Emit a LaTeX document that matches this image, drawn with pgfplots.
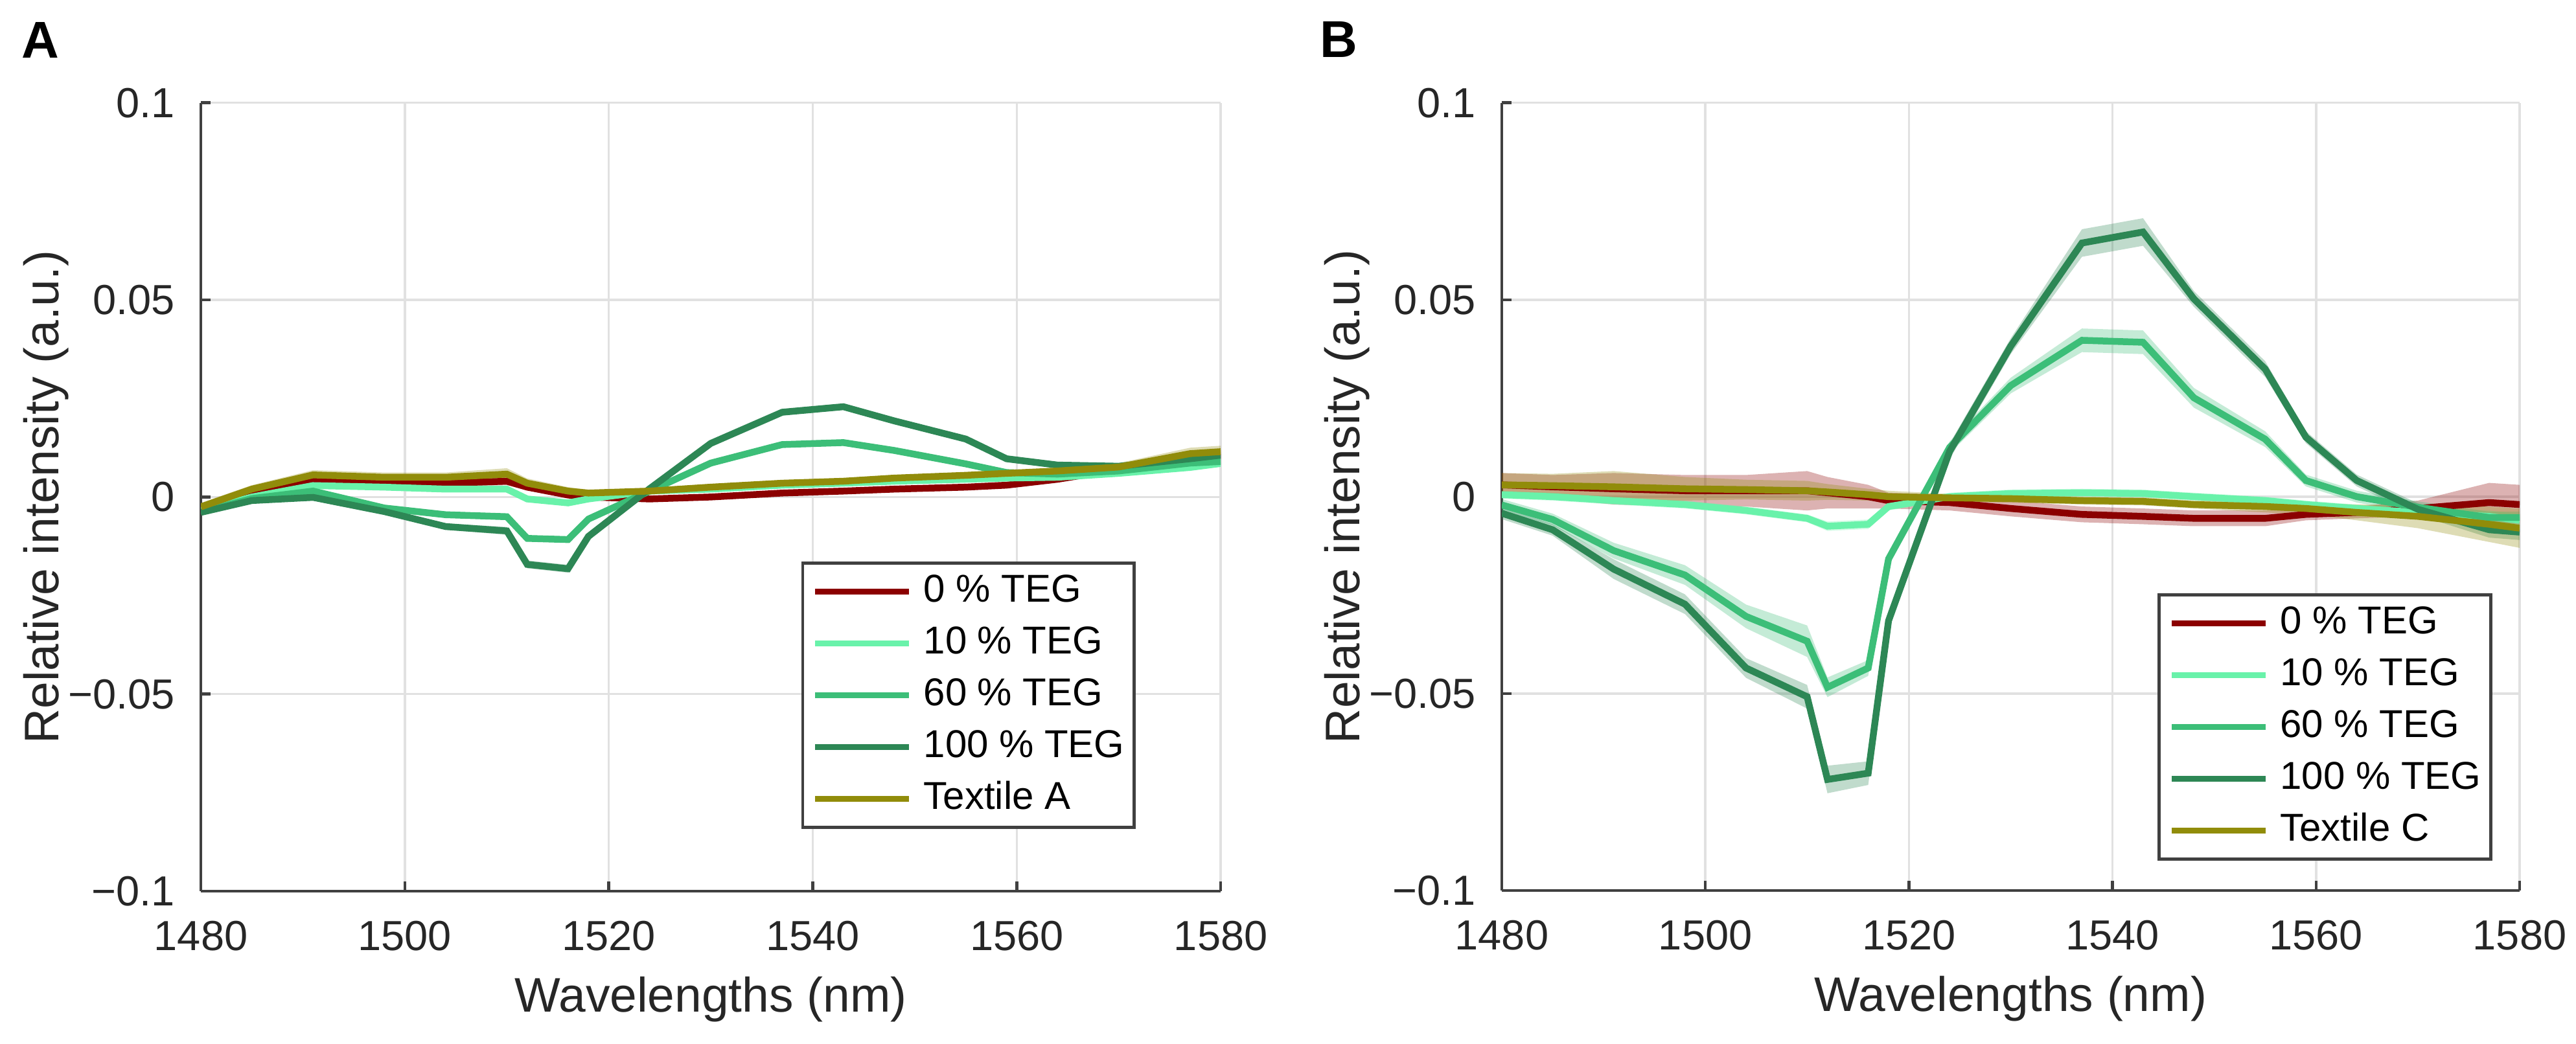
\documentclass[border=0pt]{standalone}
\usepackage{pgfplots}
\pgfplotsset{compat=1.18}
\usepackage{pgfplotstable}
\usepgfplotslibrary{fillbetween}
\usepackage{fontspec}
\setmainfont{Liberation Sans}

\definecolor{cz}{RGB}{139,0,0}
\definecolor{cten}{RGB}{105,242,170}
\definecolor{csix}{RGB}{60,190,120}
\definecolor{chun}{RGB}{45,135,85}
\definecolor{ctex}{RGB}{145,140,10}
\definecolor{txt}{RGB}{38,38,38}
\definecolor{axc}{RGB}{64,64,64}
\definecolor{grd}{RGB}{225,225,225}

\pgfplotstableread{
x      a0      e0     a10     e10    a60     e60    a100    e100   at      et
1480 -0.0030 0.0008 -0.0035 0.0006 -0.0038 0.0006 -0.0039 0.0006 -0.0025 0.0010
1485  0.0010 0.0008  0.0000 0.0006 -0.0004 0.0006 -0.0009 0.0006  0.0020 0.0010
1491  0.0045 0.0008  0.0029 0.0006  0.0015 0.0006 -0.0001 0.0008  0.0056 0.0012
1498  0.0040 0.0008  0.0025 0.0006 -0.0028 0.0008 -0.0037 0.0008  0.0050 0.0012
1504  0.0035 0.0008  0.0020 0.0006 -0.0045 0.0008 -0.0075 0.0008  0.0050 0.0012
1510  0.0040 0.0010  0.0020 0.0006 -0.0050 0.0008 -0.0086 0.0010  0.0058 0.0015
1512  0.0025 0.0008 -0.0005 0.0006 -0.0105 0.0008 -0.0171 0.0010  0.0035 0.0012
1516  0.0005 0.0008 -0.0015 0.0006 -0.0108 0.0008 -0.0182 0.0010  0.0015 0.0010
1518  0.0000 0.0006 -0.0005 0.0006 -0.0056 0.0008 -0.0100 0.0008  0.0010 0.0008
1524 -0.0005 0.0006  0.0015 0.0006  0.0015 0.0006  0.0021 0.0008  0.0015 0.0008
1530  0.0000 0.0006  0.0020 0.0006  0.0086 0.0006  0.0136 0.0008  0.0025 0.0008
1537  0.0010 0.0006  0.0030 0.0006  0.0133 0.0008  0.0215 0.0008  0.0035 0.0008
1543  0.0015 0.0006  0.0035 0.0006  0.0138 0.0008  0.0229 0.0008  0.0040 0.0008
1548  0.0020 0.0006  0.0040 0.0006  0.0118 0.0008  0.0193 0.0008  0.0048 0.0008
1555  0.0025 0.0006  0.0045 0.0006  0.0084 0.0008  0.0147 0.0008  0.0055 0.0008
1559  0.0030 0.0006  0.0048 0.0006  0.0062 0.0006  0.0097 0.0008  0.0060 0.0008
1564  0.0045 0.0006  0.0050 0.0006  0.0058 0.0006  0.0081 0.0008  0.0066 0.0008
1570  0.0070 0.0008  0.0060 0.0006  0.0066 0.0006  0.0078 0.0008  0.0076 0.0010
1577  0.0100 0.0010  0.0075 0.0006  0.0086 0.0008  0.0097 0.0008  0.0110 0.0015
1580  0.0105 0.0010  0.0085 0.0006  0.0090 0.0008  0.0106 0.0008  0.0115 0.0015
}\tabA

\pgfplotstableread{
x      a0      e0     a10     e10    a60     e60    a100    e100   at      et
1480  0.0030 0.0030  0.0005 0.0010 -0.0021 0.0015 -0.0042 0.0015  0.0030 0.0030
1485  0.0025 0.0030  0.0000 0.0010 -0.0058 0.0015 -0.0084 0.0015  0.0028 0.0030
1491  0.0020 0.0040 -0.0010 0.0010 -0.0137 0.0020 -0.0184 0.0025  0.0025 0.0040
1498  0.0015 0.0040 -0.0020 0.0010 -0.0199 0.0025 -0.0273 0.0025  0.0020 0.0030
1504  0.0015 0.0040 -0.0035 0.0010 -0.0304 0.0030 -0.0435 0.0025  0.0018 0.0025
1510  0.0015 0.0050 -0.0055 0.0010 -0.0367 0.0040 -0.0508 0.0030  0.0015 0.0025
1512  0.0010 0.0040 -0.0075 0.0012 -0.0484 0.0025 -0.0718 0.0035  0.0012 0.0020
1516  0.0000 0.0030 -0.0070 0.0012 -0.0435 0.0020 -0.0702 0.0030  0.0005 0.0015
1518 -0.0010 0.0020 -0.0025 0.0010 -0.0158 0.0015 -0.0315 0.0020  0.0000 0.0015
1524 -0.0015 0.0020  0.0000 0.0010  0.0125 0.0015  0.0115 0.0020 -0.0003 0.0010
1530 -0.0030 0.0020  0.0008 0.0010  0.0282 0.0020  0.0382 0.0020 -0.0005 0.0010
1537 -0.0045 0.0020  0.0010 0.0010  0.0397 0.0030  0.0644 0.0035 -0.0010 0.0010
1543 -0.0050 0.0020  0.0008 0.0010  0.0392 0.0030  0.0672 0.0035 -0.0012 0.0010
1548 -0.0055 0.0020  0.0000 0.0010  0.0251 0.0025  0.0502 0.0020 -0.0020 0.0010
1555 -0.0055 0.0020 -0.0010 0.0010  0.0146 0.0020  0.0324 0.0020 -0.0025 0.0015
1559 -0.0045 0.0015 -0.0020 0.0010  0.0041 0.0015  0.0151 0.0015 -0.0030 0.0015
1564 -0.0040 0.0015 -0.0030 0.0010  0.0000 0.0015  0.0041 0.0015 -0.0040 0.0020
1570 -0.0030 0.0020 -0.0040 0.0010 -0.0027 0.0015 -0.0032 0.0015 -0.0050 0.0030
1577 -0.0015 0.0050 -0.0050 0.0015 -0.0053 0.0015 -0.0084 0.0020 -0.0070 0.0045
1580 -0.0020 0.0050 -0.0060 0.0015 -0.0053 0.0015 -0.0090 0.0020 -0.0080 0.0050
}\tabB

% band: #1 table, #2 value col, #3 err col, #4 colour, #5 unique name
\newcommand{\band}[5]{%
  \addplot[draw=none, forget plot, name path=#5u] table[x=x, y expr=\thisrow{#2}+\thisrow{#3}] {#1};
  \addplot[draw=none, forget plot, name path=#5l] table[x=x, y expr=\thisrow{#2}-\thisrow{#3}] {#1};
  \addplot[fill=#4, fill opacity=0.3, draw=none, forget plot] fill between[of=#5u and #5l];
}

\pgfplotsset{
  panel/.style={
    scale only axis,
    xmin=1480, xmax=1580, ymin=-0.1, ymax=0.1,
    xtick={1480,1500,1520,1540,1560,1580},
    xticklabels={1480,1500,1520,1540,1560,1580},
    ytick={-0.1,-0.05,0,0.05,0.1},
    yticklabels={−0.1,−0.05,0,0.05,0.1},
    axis x line*=bottom, axis y line*=left,
    axis line style={axc, line width=0.45pt},
    tick align=inside, major tick length=1.5pt,
    tick style={axc, line width=0.45pt},
    grid=major, major grid style={grd, line width=0.35pt},
    /pgf/number format/assume math mode=true,
    ticklabel style={font=\fontsize{6.5}{7}\selectfont, text=txt},
    yticklabel style={inner sep=0pt, anchor=east, xshift=-3.8pt},
    xticklabel style={inner sep=0pt, anchor=north, yshift=-4.4pt},
    label style={font=\fontsize{7.5}{8}\selectfont, text=txt},
    xlabel={Wavelengths (nm)},
    ylabel={Relative intensity (a.u.)},
    xlabel style={at={(axis description cs:0.5,0)}, anchor=base, yshift=-18.7pt, inner sep=0pt},
    ylabel style={at={(axis description cs:-0.1397,0.5)}, anchor=base, inner sep=0pt},
    legend style={font=\fontsize{6}{7}\selectfont, text=black, draw=axc, line width=0.45pt,
      anchor=north west, inner xsep=1.5pt, inner ysep=1.6pt, row sep=2.4pt, column sep=1.8pt,
      nodes={inner sep=0pt, text height=4.4pt, text depth=1.2pt}},
    legend cell align=left,
    legend image code/.code={\draw[#1, line width=0.9pt] (0pt,0pt) -- (14.5pt,0pt);},
  }
}

\begin{document}
\begin{tikzpicture}
\path (0,0) rectangle (397.6pt,160.4pt);

\begin{axis}[panel, at={(30.8pt,23.6pt)}, anchor=south west, width=157.5pt, height=121.8pt,
  legend style={at={(axis description cs:0.5886,0.4179)}}]
  \band{\tabA}{a0}{e0}{cz}{Az}
  \addplot[cz, line width=1.05pt] table[x=x, y=a0] {\tabA};
  \addlegendentry{0 \% TEG}
  \band{\tabA}{a10}{e10}{cten}{At}
  \addplot[cten, line width=1.05pt] table[x=x, y=a10] {\tabA};
  \addlegendentry{10 \% TEG}
  \band{\tabA}{a60}{e60}{csix}{As}
  \addplot[csix, line width=1.05pt] table[x=x, y=a60] {\tabA};
  \addlegendentry{60 \% TEG}
  \band{\tabA}{a100}{e100}{chun}{Ah}
  \addplot[chun, line width=1.05pt] table[x=x, y=a100] {\tabA};
  \addlegendentry{100 \% TEG}
  \band{\tabA}{at}{et}{ctex}{Ax}
  \addplot[ctex, line width=1.05pt] table[x=x, y=at] {\tabA};
  \addlegendentry{Textile A}
\end{axis}

\begin{axis}[panel, at={(231.7pt,23.7pt)}, anchor=south west, width=157.2pt, height=121.7pt,
  legend style={at={(axis description cs:0.6444,0.3772)}}]
  \band{\tabB}{a0}{e0}{cz}{Bz}
  \addplot[cz, line width=1.05pt] table[x=x, y=a0] {\tabB};
  \addlegendentry{0 \% TEG}
  \band{\tabB}{a10}{e10}{cten}{Bt}
  \addplot[cten, line width=1.05pt] table[x=x, y=a10] {\tabB};
  \addlegendentry{10 \% TEG}
  \band{\tabB}{a60}{e60}{csix}{Bs}
  \addplot[csix, line width=1.05pt] table[x=x, y=a60] {\tabB};
  \addlegendentry{60 \% TEG}
  \band{\tabB}{a100}{e100}{chun}{Bh}
  \addplot[chun, line width=1.05pt] table[x=x, y=a100] {\tabB};
  \addlegendentry{100 \% TEG}
  \band{\tabB}{at}{et}{ctex}{Bx}
  \addplot[ctex, line width=1.05pt] table[x=x, y=at] {\tabB};
  \addlegendentry{Textile C}
\end{axis}

\node[font=\bfseries\fontsize{8}{8}\selectfont, anchor=center] at (6.0pt,155.1pt) {A};
\node[font=\bfseries\fontsize{8}{8}\selectfont, anchor=center] at (206.5pt,155.2pt) {B};
\end{tikzpicture}
\end{document}
